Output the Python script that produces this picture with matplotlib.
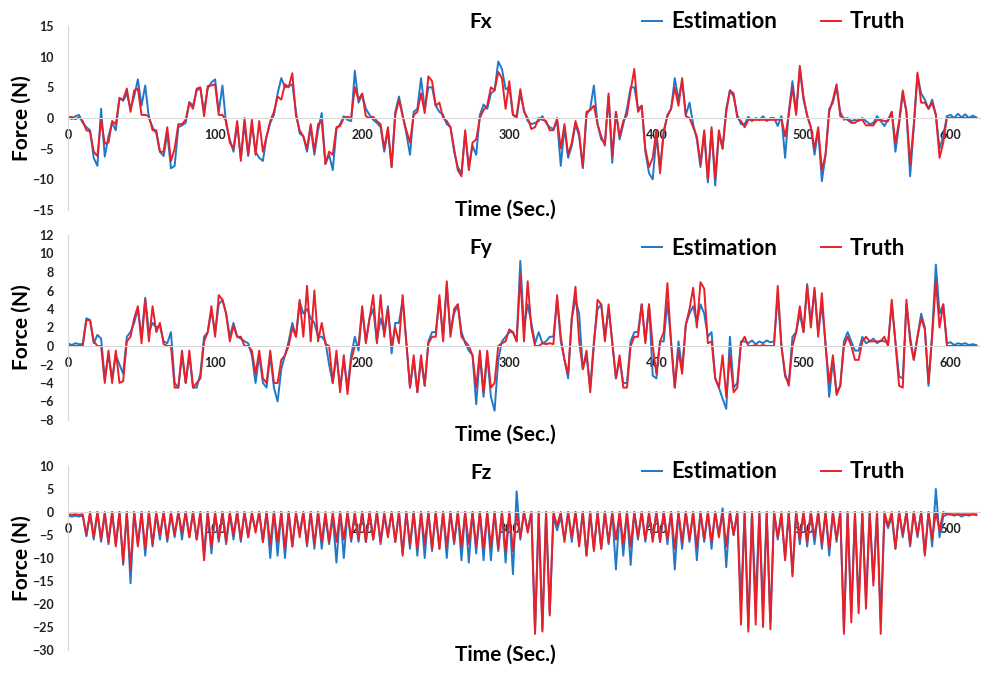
import matplotlib
matplotlib.use("Agg")
import matplotlib.pyplot as plt
import numpy as np

plt.rcParams['font.family'] = ['Lato', 'DejaVu Sans']
plt.rcParams['font.weight'] = 'bold'
plt.rcParams['axes.labelweight'] = 'bold'

BLUE = '#1f78c8'
RED = '#e8202a'
GREY = '#d9d9d9'

# samples every 2.5 s, 0 .. 617.5 s (8 samples = 20 s per row)
time = np.arange(248) * 2.5

fx_truth = [
    0.0, 0.2, -0.2, 0.1, -0.5, -2.0, -2.2, -5.5,
    -6.2, -0.3, -4.2, -4.0, -0.5, -1.0, 3.2, 3.0,
    4.8, 1.0, 4.5, 4.8, 0.5, 0.5, 0.3, -2.0,
    -2.0, -5.5, -5.5, -1.5, -7.0, -5.0, -1.0, -1.0,
    -0.3, 2.5, 1.5, 4.8, 5.0, 0.3, 5.2, 5.3,
    5.5, 0.5, 0.5, -0.5, -4.0, -5.0, -0.5, -7.0,
    0.0, -6.0, -0.3, -6.0, -0.5, -5.5, -3.0, -0.5,
    1.0, 3.5, 3.0, 5.5, 5.0, 7.3, 0.3, -2.0,
    -3.0, -5.0, -1.0, -5.5, -1.0, -0.5, -7.5, -5.5,
    -6.0, -1.5, -1.3, 0.0, 0.2, 0.0, 5.0, 3.0,
    4.0, 0.3, 0.0, 0.2, -0.5, -1.0, -5.0, -1.5,
    -8.0, 0.5, 3.0, 0.3, -2.0, -4.0, 0.5, 1.0,
    4.0, 0.8, 6.8, 6.0, 2.0, 2.5, 0.0, -0.5,
    -1.5, -5.0, -8.5, -9.5, -2.0, -8.5, -4.0, -3.5,
    0.0, 1.3, 2.0, 5.0, 4.5, 7.5, 6.5, 1.5,
    6.0, 0.5, 0.3, 4.7, 1.0, 0.0, -1.8, -1.5,
    0.0, -0.3, -0.5, -2.0, -2.0, 0.0, -5.0, -1.0,
    -6.0, -4.0, -0.5, -2.5, -8.0, 1.0, 1.3, 2.0,
    -1.0, -3.0, -4.5, 4.0, -6.3, 1.0, -3.0, -0.5,
    0.5, 4.5, 8.0, 1.0, 2.0, -5.0, -8.0, -6.5,
    -2.0, -9.0, -2.0, 0.3, 1.5, 5.0, 2.0, 6.5,
    0.3, 0.0, -1.5, -3.0, -7.5, -2.0, -10.0, -1.5,
    -9.8, -2.0, -5.0, 1.0, 4.5, 4.0, 0.0, -0.5,
    -1.5, -0.3, -0.3, -0.3, -0.3, -0.3, -0.3, -0.3,
    -0.3, -0.3, 0.0, -3.0, 0.5, 5.0, 0.5, 8.5,
    3.5, 0.3, -1.5, -5.0, -1.5, -8.5, -6.0, 1.0,
    3.0, 5.5, 0.3, 0.0, -0.3, -0.8, -0.8, -0.3,
    -0.3, -1.2, -1.2, -1.2, -0.3, -0.3, -0.5, -0.5,
    1.0, -4.0, -0.5, 4.5, 1.0, -7.5, -1.0, 7.4,
    2.5, 2.5, 1.5, 2.5, 0.5, -6.5, -4.0, 0.0,
    0.0, 0.0, 0.0, 0.0, 0.0, 0.0, 0.0, 0.0,
]
fx_est = [
    0.3, -0.2, 0.3, 0.5, -0.8, -1.5, -2.0, -6.5,
    -7.8, 1.5, -6.3, -3.0, -0.8, -2.0, 3.3, 2.8,
    4.0, 1.5, 3.5, 6.3, 2.0, 5.3, 0.0, -1.5,
    -2.5, -5.5, -6.2, -2.5, -8.2, -7.8, -1.5, -1.2,
    -0.8, 2.6, 2.0, 4.5, 4.8, 1.0, 4.8, 5.8,
    6.3, 1.0, 5.3, -1.0, -3.5, -5.5, -1.0, -6.5,
    -1.0, -6.2, -1.0, -5.5, -6.5, -7.0, -3.0, -0.8,
    0.5, 4.0, 6.5, 5.0, 5.2, 5.5, 1.0, -2.5,
    -3.0, -5.5, -1.5, -6.0, -2.0, 0.8, -7.5, -6.0,
    -8.5, -1.8, -1.0, 0.3, -0.3, -0.5, 7.7, 2.5,
    3.8, 1.5, 0.5, -0.3, -0.8, -1.5, -5.5, -2.0,
    -8.0, 1.0, 3.5, 0.5, -2.5, -6.0, 1.0, 1.5,
    6.5, 1.5, 5.0, 5.0, 2.0, 1.0, 0.5, -1.0,
    -1.5, -5.5, -8.0, -9.0, -2.5, -8.0, -4.5, -6.0,
    0.5, 2.2, 1.5, 4.0, 4.5, 9.2, 8.0, 4.7,
    5.0, 0.5, 0.0, 4.0, 1.3, -0.5, -1.0, -0.8,
    -0.5, 0.3, -0.8, -1.5, -1.8, -0.5, -7.8, -1.5,
    -6.5, -4.5, -1.0, -3.0, -8.2, 0.5, 1.5, 5.3,
    -1.0, -3.5, -4.0, 3.5, -7.3, 1.0, -3.5, -1.0,
    1.5, 5.0, 5.0, 1.5, 2.0, -5.5, -9.0, -10.0,
    -3.0, -8.0, -2.5, 0.5, 1.5, 6.5, 3.0, 6.0,
    0.5, 2.5, -1.0, -3.5, -8.0, -2.5, -10.5, -2.0,
    -11.0, -2.5, -5.0, 1.5, 4.5, 3.5, 0.5, -1.0,
    -1.0, 0.2, -0.5, 0.0, -0.3, 0.3, -0.5, 0.0,
    0.0, -1.3, 0.3, -6.5, 1.0, 6.0, 1.0, 8.0,
    3.0, 0.5, -1.5, -6.0, -2.0, -10.3, -6.0, 1.5,
    2.5, 5.0, 1.0, -0.3, 0.0, -0.5, -0.3, -0.5,
    0.0, -0.5, -1.0, -0.8, 0.3, -0.5, -1.3, -0.3,
    1.0, -5.5, -1.0, 4.0, 1.0, -9.5, -1.5, 7.0,
    4.0, 3.0, 1.5, 3.0, 0.5, -5.0, -3.0, 0.3,
    0.5, 0.0, 0.7, 0.1, 0.6, 0.0, 0.4, 0.1,
]

fy_truth = [
    0.0, 0.0, 0.0, 0.0, 0.0, 2.8, 2.8, 0.5,
    0.0, 0.0, -4.0, -0.5, -4.0, -0.5, -4.0, -3.8,
    0.5, 1.0, 3.0, 4.3, 0.3, 5.0, 0.5, 4.3,
    1.5, 2.5, 0.2, 0.0, 0.0, -4.5, -4.5, -0.5,
    -4.0, -0.5, -4.5, -4.0, -3.5, 0.5, 1.5, 4.3,
    1.0, 5.5, 5.0, 3.5, 0.5, 2.2, 1.0, 1.0,
    0.0, 0.0, -0.5, -3.0, -0.5, -3.5, -4.0, -0.5,
    -4.0, -4.0, -1.5, -1.0, 0.0, 2.0, 1.0, 5.0,
    1.0, 6.5, 0.5, 6.0, 0.5, 2.5, 0.2, 0.0,
    -4.0, -0.5, -5.0, -1.0, -5.2, -1.5, 0.0, 0.0,
    4.3, 0.3, 3.0, 5.5, 0.3, 5.5, 1.0, 4.0,
    0.0, 2.0, 0.3, 5.5, 0.3, -4.5, -1.0, -5.0,
    -1.0, -4.3, 0.3, 1.0, 1.0, 5.5, 0.5, 7.0,
    1.0, 4.0, 4.5, 1.0, 0.5, 0.0, -1.0, -4.5,
    -0.5, -5.0, -0.5, -4.5, -4.0, 0.0, 0.3, 0.5,
    1.8, 1.5, 0.5, 7.7, 0.5, 7.0, 2.0, 0.0,
    0.0, 0.3, 0.2, 0.3, 0.2, 5.5, 1.0, -1.5,
    -3.0, 3.0, 6.4, 0.5, -2.5, -0.5, -5.0, 0.0,
    5.0, 4.5, 0.5, 4.5, 0.3, -3.5, -1.0, -4.5,
    -4.5, 0.0, 1.0, 1.0, 4.5, 0.3, 4.5, 0.0,
    -3.0, 0.5, 1.5, 6.8, 0.3, -4.5, -0.5, -3.0,
    2.3, 4.0, 6.3, 2.0, 6.9, 6.2, 0.3, 0.5,
    -3.5, -4.5, -1.0, -5.5, -1.0, -5.0, -4.5, 0.3,
    1.0, 0.0, 0.0, 0.1, 0.0, 0.1, 0.0, 0.0,
    0.0, 6.5, 0.0, -3.0, -4.3, 0.0, 1.5, 4.3,
    1.5, 6.5, 2.0, 6.3, 1.0, 5.7, 0.0, -4.0,
    -1.0, -5.3, -4.3, 0.0, 1.0, 0.0, -1.5, -1.5,
    0.5, 1.0, 0.5, 0.5, 0.5, 0.5, 1.0, 0.0,
    5.0, 0.3, -4.3, -4.5, 5.0, 0.5, -1.5, 1.0,
    3.0, 1.8, -4.0, 1.0, 7.0, 2.0, 4.5, 0.0,
    0.0, 0.0, 0.0, 0.0, 0.0, 0.0, 0.0, 0.0,
]
fy_est = [
    0.3, 0.1, 0.3, 0.2, 0.2, 3.0, 2.8, 0.3,
    1.2, 0.8, -3.5, -1.0, -3.5, -1.0, -2.0, -3.0,
    1.0, 1.5, 2.5, 4.0, 1.0, 5.2, 1.5, 2.5,
    2.0, 2.2, 0.5, 0.3, 1.5, -4.0, -4.5, -1.0,
    -4.0, -1.0, -4.5, -4.5, -3.0, 1.0, 1.5, 3.8,
    1.5, 4.5, 5.0, 3.5, 1.0, 2.5, 1.0, 0.8,
    0.5, 0.3, -1.0, -4.0, -1.0, -4.0, -4.5, -1.0,
    -4.5, -6.0, -2.5, -1.0, 0.5, 2.5, 1.0, 4.8,
    3.5, 4.0, 3.0, 2.5, 1.0, 1.0, 0.5, -2.0,
    -4.0, -1.0, -4.5, -1.5, -4.5, -1.0, 1.0, -0.5,
    3.8, 0.5, 3.0, 4.0, 0.5, 3.0, 1.5, 4.3,
    -0.8, 2.5, 2.5, 5.0, 0.5, -4.5, -1.5, -5.0,
    -1.5, -4.3, 0.5, 1.5, 1.5, 5.0, 1.0, 6.5,
    1.5, 3.5, 4.5, 1.5, 0.3, -0.5, -1.0, -6.3,
    -1.0, -5.5, -1.0, -5.5, -7.0, -1.5, 0.5, 1.0,
    1.5, 1.5, 0.5, 9.2, 2.0, 4.5, 2.5, 0.3,
    1.5, 0.3, 0.5, 1.0, 1.0, 5.0, 0.5, -1.5,
    -3.5, 3.0, 5.0, 3.5, -2.5, -1.0, -4.5, 0.5,
    4.0, 4.5, 1.0, 4.0, 0.5, -3.5, -1.5, -4.0,
    -4.0, 0.5, 1.5, 1.5, 4.5, 0.5, 4.5, -3.2,
    -3.5, 0.5, 0.5, 4.8, 0.5, -4.5, 0.5, -2.5,
    2.3, 3.5, 4.3, 2.5, 4.5, 3.5, 1.0, 1.5,
    -3.5, -4.5, -5.7, -6.8, 1.0, -4.5, -4.0, 0.5,
    0.5, 0.3, 0.6, 0.2, 0.5, 0.3, 0.6, 0.4,
    0.5, 5.5, 0.0, -3.3, -4.0, 1.0, 1.5, 3.5,
    1.5, 6.7, 2.5, 6.0, 1.5, 4.5, 0.3, -5.5,
    -1.5, -5.0, -4.3, 0.5, 1.5, 0.5, -0.5, -0.5,
    1.0, 0.3, 0.5, 0.8, 0.3, 0.6, 0.5, 0.3,
    4.5, 0.5, -3.3, -3.5, 4.5, 1.0, -1.5, 1.0,
    3.5, 2.0, -4.3, 1.5, 8.8, 3.5, 4.5, 0.3,
    0.4, 0.1, 0.3, 0.2, 0.3, 0.1, 0.2, 0.1,
]

fz_truth = [
    -0.5, -0.6, -0.5, -0.6, -0.5, -5.0, 0.0, -5.5,
    0.0, -6.0, 0.0, -6.5, 0.0, -7.5, 0.0, -11.0,
    0.0, -12.5, 0.0, -7.5, 0.0, -8.0, 0.0, -7.0,
    0.0, -5.0, 0.0, -6.0, 0.0, -5.0, 0.0, -4.5,
    0.0, -5.5, 0.0, -6.0, 0.0, -10.5, 0.0, -7.5,
    0.0, -6.0, 0.0, -6.5, 0.0, -5.0, 0.0, -6.0,
    0.0, -5.5, 0.0, -4.5, 0.0, -6.5, 0.0, -7.0,
    0.0, -6.5, 0.0, -8.0, 0.0, -7.5, 0.0, -5.5,
    0.0, -7.0, 0.0, -7.0, 0.0, -6.5, 0.0, -6.5,
    0.0, -6.5, 0.0, -6.0, 0.0, -6.0, 0.0, -6.0,
    0.0, -6.5, 0.0, -6.0, 0.0, -6.5, 0.0, -5.5,
    0.0, -6.5, 0.0, -9.5, 0.0, -7.0, 0.0, -8.0,
    0.0, -7.0, 0.0, -8.0, 0.0, -8.0, 0.0, -7.5,
    0.0, -6.5, 0.0, -7.5, 0.0, -7.0, 0.0, -7.5,
    0.0, -8.0, 0.0, -7.5, 0.0, -8.0, 0.0, -8.5,
    0.0, -8.5, 0.0, -5.5, 0.0, -4.5, 0.0, -26.5,
    0.0, -26.0, 0.0, -22.5, 0.0, -3.0, 0.0, -6.5,
    0.0, -5.5, 0.0, -7.5, 0.0, -9.5, 0.0, -8.5,
    0.0, -8.0, 0.0, -6.5, 0.0, -6.0, 0.0, -7.0,
    0.0, -7.5, 0.0, -5.5, 0.0, -6.0, 0.0, -6.5,
    0.0, -6.5, 0.0, -6.0, 0.0, -8.0, 0.0, -6.5,
    0.0, -6.0, 0.0, -7.5, 0.0, -6.0, 0.0, -6.5,
    0.0, -5.5, 0.0, -7.5, 0.0, -5.0, 0.0, -24.5,
    0.0, -26.0, 0.0, -24.5, 0.0, -25.0, 0.0, -25.5,
    0.0, -5.5, 0.0, -10.5, 0.0, -14.0, 0.0, -6.0,
    0.0, -6.5, 0.0, -5.5, 0.0, -7.0, 0.0, -8.0,
    0.0, -6.0, 0.0, -26.5, 0.0, -24.0, 0.0, -22.0,
    0.0, -21.0, 0.0, -16.0, 0.0, -26.5, 0.0, -3.0,
    0.0, -8.0, 0.0, -5.0, 0.0, -7.0, 0.0, -5.0,
    0.0, -9.5, 0.0, -6.0, 0.0, -4.0, 0.0, -0.5,
    -0.5, -0.5, -0.5, -0.5, -0.5, -0.5, -0.5, -0.5,
]
fz_est = [
    -0.8, -1.0, -0.8, -1.0, -0.8, -5.3, -0.5, -6.0,
    0.0, -6.5, -0.5, -7.0, 0.0, -7.0, 0.0, -11.5,
    0.0, -15.5, 0.0, -7.0, 0.0, -9.5, 0.0, -7.5,
    -0.5, -6.0, 0.0, -6.5, -0.5, -5.5, 0.0, -6.0,
    0.0, -5.5, 0.0, -6.0, 0.0, -9.0, 0.0, -9.0,
    -0.5, -6.5, 0.0, -7.0, -0.5, -6.0, 0.0, -6.5,
    0.0, -5.5, -0.5, -4.0, 0.0, -6.5, 0.0, -10.0,
    0.0, -9.5, 0.0, -10.0, 0.0, -7.5, -0.5, -4.5,
    0.0, -7.5, 0.0, -8.0, 0.0, -8.0, -1.0, -7.0,
    -1.0, -11.0, 0.0, -10.0, 0.0, -6.5, -0.5, -6.5,
    0.0, -6.5, 0.0, -6.0, 0.0, -7.0, -1.0, -5.0,
    0.0, -6.5, 0.0, -9.0, 0.0, -8.0, 0.0, -9.5,
    0.0, -10.0, 0.0, -8.5, 0.0, -8.0, 0.0, -10.0,
    0.0, -7.0, 0.0, -10.5, 0.0, -11.0, 0.0, -9.0,
    0.0, -10.5, 0.0, -10.5, 0.0, -8.5, 0.0, -11.0,
    0.0, -13.5, 4.5, -6.0, 0.0, -4.0, 0.0, -26.0,
    0.0, -25.5, 0.0, -22.0, -1.0, -4.0, -1.0, -6.0,
    0.0, -6.5, 0.0, -7.0, 0.0, -9.5, 0.0, -8.0,
    0.0, -8.0, 0.0, -7.0, 0.0, -12.5, 0.0, -9.5,
    0.0, -11.5, 0.0, -6.0, 0.0, -6.5, -0.5, -6.0,
    0.0, -6.5, 0.0, -7.0, 0.0, -12.5, 0.0, -8.0,
    0.0, -6.5, 0.0, -10.5, 0.0, -6.5, 0.0, -8.0,
    0.0, -5.0, 0.8, -12.0, 0.0, -5.0, 0.0, -19.5,
    0.0, -25.0, 0.0, -19.5, 0.0, -21.0, 0.0, -24.0,
    0.0, -6.0, -1.0, -10.0, 0.0, -13.5, 0.0, -7.0,
    0.0, -7.5, 0.0, -7.0, 0.0, -8.0, 0.0, -9.5,
    0.0, -6.5, 0.0, -25.5, 0.0, -22.0, 0.0, -20.0,
    0.0, -19.0, 0.0, -15.0, 0.0, -23.5, -1.0, -3.5,
    -1.0, -8.0, 0.0, -5.5, 0.0, -7.5, 0.0, -5.5,
    0.0, -9.0, 0.0, -7.5, 5.0, -5.5, -1.0, -0.5,
    -0.5, -0.8, -0.5, -1.0, -0.6, -0.8, -0.5, -0.7,
]

W, H = 981, 674
LEFT, RIGHT = 68, 980


def fx(px):
    return px / W


def fy(py):
    return 1 - py / H


# name, truth, estimate, y range, y step, top px, bottom px, title y, legend y, xlabel y
panels = [
    ('Fx', fx_truth, fx_est, (-15, 15), 5, 26, 210, 22, 22, 210),
    ('Fy', fy_truth, fy_est, (-8, 12), 2, 235, 420, 248, 248, 435),
    ('Fz', fz_truth, fz_est, (-30, 10), 5, 466, 650, 473, 472, 655),
]

fig = plt.figure(figsize=(9.81, 6.74), dpi=100)

for name, truth, est, (lo, hi), step, top, bottom, ty, ly, xly in panels:
    ax = fig.add_axes([fx(LEFT), fy(bottom), (RIGHT - LEFT) / W, (bottom - top) / H])
    ax.plot(time, est, color=BLUE, lw=1.4, label='Estimation')
    ax.plot(time, truth, color=RED, lw=1.4, label='Truth')
    ax.set_xlim(0, 620)
    ax.set_ylim(lo, hi)
    ax.set_yticks(np.arange(lo, hi + step, step))
    ax.set_xticks(range(0, 601, 100))
    ax.set_axisbelow(True)
    for s in ['top', 'right']:
        ax.spines[s].set_visible(False)
    ax.spines['left'].set_color(GREY)
    ax.spines['bottom'].set_color(GREY)
    ax.spines['bottom'].set_position(('data', 0))
    ax.tick_params(axis='both', length=0, labelsize=9, labelcolor='#222222')
    ax.tick_params(axis='x', pad=8)
    ax.tick_params(axis='y', pad=10)

    fig.text(fx(481), fy(ty), name, ha='center', va='center', fontsize=15)
    ax.legend(loc='center left', bbox_to_anchor=(fx(642), fy(ly)),
              bbox_transform=fig.transFigure, ncol=2, frameon=False,
              prop={'weight': 'bold', 'size': 16}, handlelength=0.9,
              handletextpad=0.4, columnspacing=2.0, borderpad=0, borderaxespad=0)

    ax.set_xlabel('Time (Sec.)', fontsize=15, va='center')
    ax.xaxis.set_label_coords((505 - LEFT) / (RIGHT - LEFT), (bottom - xly) / (bottom - top))
    ax.set_ylabel('Force (N)', fontsize=15, va='center')
    ax.yaxis.set_label_coords((22 - LEFT) / (RIGHT - LEFT), 0.5)

fig.savefig('out.png', dpi=100)
